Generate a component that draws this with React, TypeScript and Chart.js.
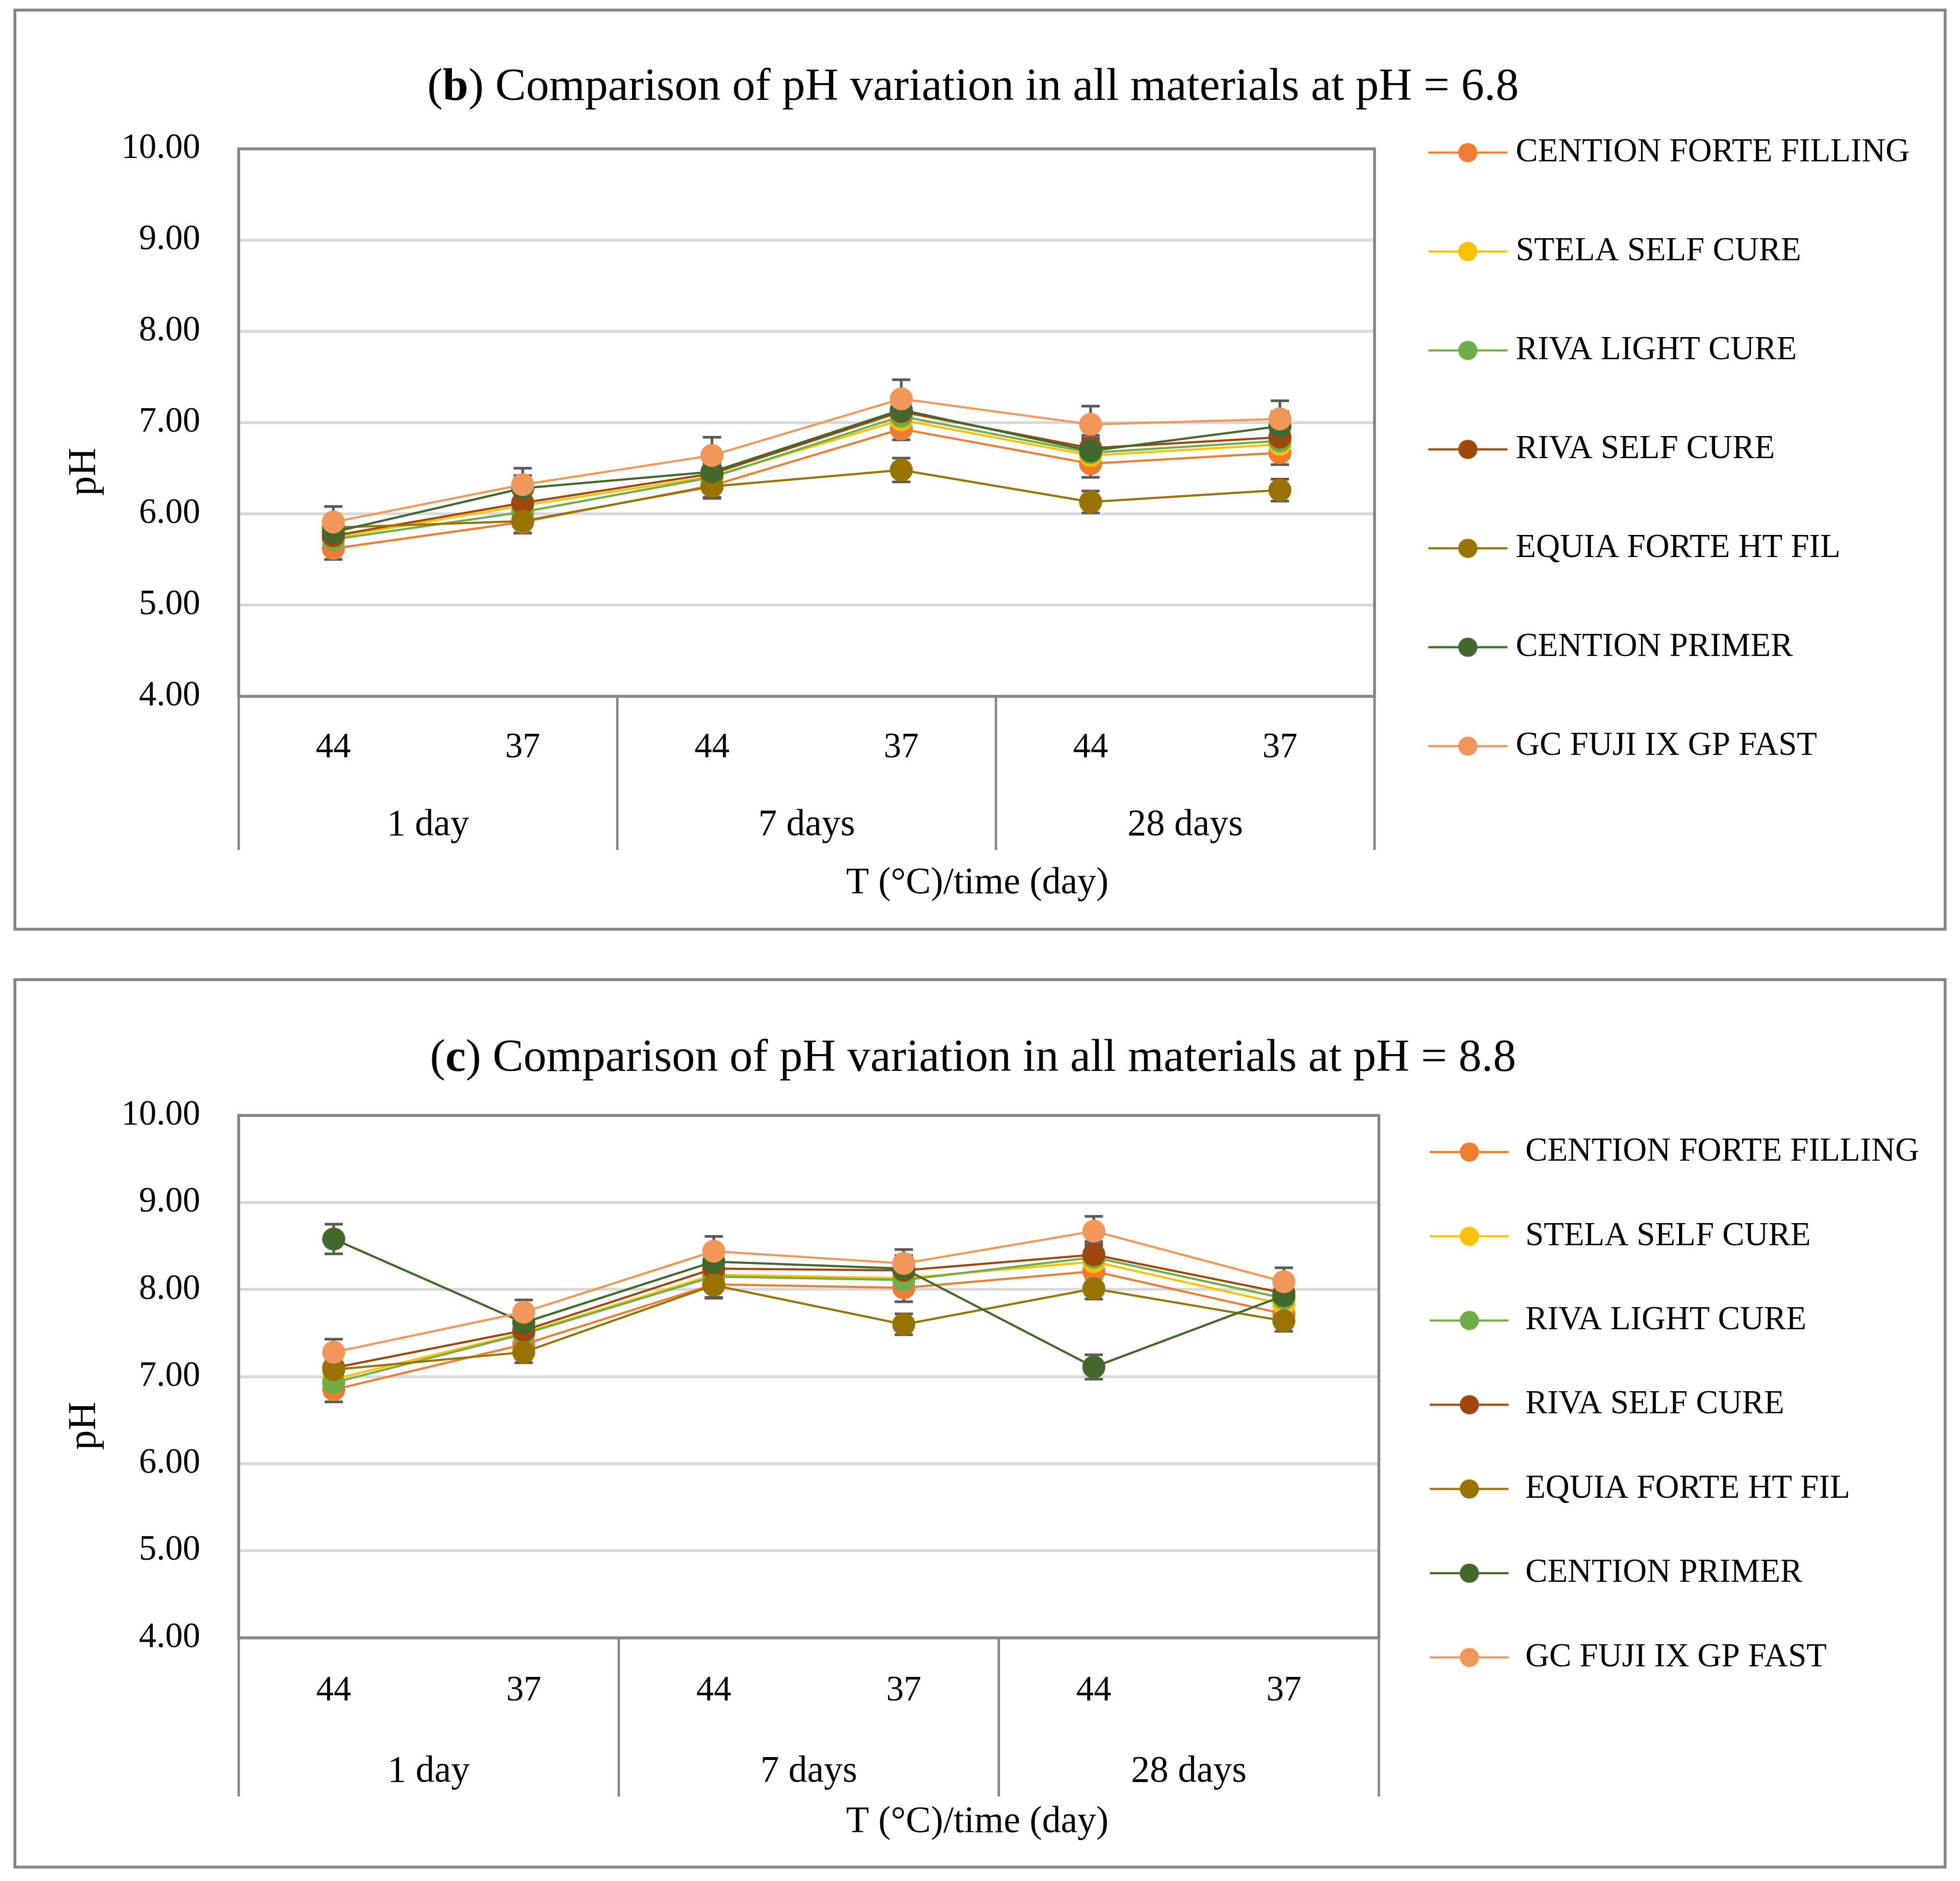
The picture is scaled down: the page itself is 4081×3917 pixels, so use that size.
import React, { useEffect, useRef } from 'react';
import { Chart, registerables } from 'chart.js';

Chart.register(...registerables);

const FONT_FAMILY = '"Liberation Serif", "Times New Roman", serif';

// ---------- categories / tick labels ----------
const temperatureLabels = ['44', '37', '44', '37', '44', '37'];
const timeGroups = ['1 day', '7 days', '28 days'];
const yAxisMin = 4;
const yAxisMax = 10;
const yAxisStep = 1;
const yAxisTitle = 'pH';
const xAxisTitle = 'T (°C)/time (day)';

const seriesNames = [
  'CENTION FORTE FILLING',
  'STELA SELF CURE',
  'RIVA LIGHT CURE',
  'RIVA SELF CURE',
  'EQUIA FORTE HT FIL',
  'CENTION PRIMER',
  'GC FUJI IX GP FAST',
];
const seriesColors = ['#ED7D31', '#FFC000', '#70AD47', '#9E480E', '#997300', '#43682B', '#F1975A'];

// ---------- panel (b): pH = 6.8 ----------
const b_centionForteFilling = [5.62, 5.91, 6.31, 6.93, 6.55, 6.67];
const b_stelaSelfCure = [5.74, 6.09, 6.41, 7.03, 6.64, 6.76];
const b_rivaLightCure = [5.72, 6.02, 6.4, 7.07, 6.67, 6.8];
const b_rivaSelfCure = [5.76, 6.12, 6.44, 7.12, 6.72, 6.84];
const b_equiaForteHtFil = [5.85, 5.92, 6.3, 6.48, 6.13, 6.26];
const b_centionPrimer = [5.8, 6.28, 6.46, 7.14, 6.69, 6.96];
const b_gcFujiIxGpFast = [5.91, 6.32, 6.64, 7.26, 6.98, 7.04];

const b_err_centionForteFilling = [0.12, 0.12, 0.13, 0.12, 0.15, 0.13];
const b_err_stelaSelfCure = [0.14, 0.13, 0.14, 0.15, 0.14, 0.14];
const b_err_rivaLightCure = [0.13, 0.14, 0.14, 0.15, 0.14, 0.15];
const b_err_rivaSelfCure = [0.14, 0.15, 0.15, 0.15, 0.14, 0.15];
const b_err_equiaForteHtFil = [0.13, 0.13, 0.13, 0.13, 0.12, 0.12];
const b_err_centionPrimer = [0.15, 0.14, 0.15, 0.16, 0.14, 0.16];
const b_err_gcFujiIxGpFast = [0.17, 0.18, 0.2, 0.21, 0.2, 0.2];

// ---------- panel (c): pH = 8.8 ----------
const c_centionForteFilling = [6.85, 7.37, 8.06, 8.02, 8.21, 7.72];
const c_stelaSelfCure = [6.97, 7.5, 8.17, 8.13, 8.32, 7.83];
const c_rivaLightCure = [6.93, 7.49, 8.15, 8.11, 8.37, 7.9];
const c_rivaSelfCure = [7.1, 7.53, 8.24, 8.22, 8.4, 7.96];
const c_equiaForteHtFil = [7.08, 7.28, 8.05, 7.6, 8.01, 7.64];
const c_centionPrimer = [8.58, 7.62, 8.32, 8.24, 7.11, 7.93];
const c_gcFujiIxGpFast = [7.28, 7.74, 8.44, 8.3, 8.67, 8.09];

const c_err_centionForteFilling = [0.14, 0.15, 0.15, 0.16, 0.15, 0.15];
const c_err_stelaSelfCure = [0.14, 0.14, 0.15, 0.15, 0.15, 0.14];
const c_err_rivaLightCure = [0.14, 0.15, 0.15, 0.15, 0.15, 0.15];
const c_err_rivaSelfCure = [0.15, 0.15, 0.15, 0.16, 0.15, 0.15];
const c_err_equiaForteHtFil = [0.14, 0.12, 0.15, 0.12, 0.12, 0.12];
const c_err_centionPrimer = [0.17, 0.15, 0.15, 0.15, 0.14, 0.15];
const c_err_gcFujiIxGpFast = [0.15, 0.14, 0.17, 0.16, 0.17, 0.16];

// ---------- layout (not data) ----------
const CANVAS_W = 4013;
const PANEL_LEFT = 28;
const BORDER = 6;
const FRAME_COLOR = '#868686';
const LEGEND_FONT_SIZE = 69;

type Layout = {
  pageTop: number;
  height: number;
  plotTop: number;
  plotRight: number;
  xTickPad: number;
  xTickH: number;
  groupPad: number;
  groupH: number;
  bottomPad: number;
  legendPad: number;
  legendTitleH: number;
  legendPointW: number;
  legendImgW: number;
  legendLineLen: number;
  titleX: number;
  titleBaseline: number;
  xTitleX: number;
  xTitleY: number;
};

const layoutB: Layout = {
  pageTop: 18,
  height: 1908,
  plotTop: 286,
  plotRight: 2828,
  xTickPad: 64.2,
  xTickH: 190,
  groupPad: 32.2,
  groupH: 130,
  bottomPad: 162,
  legendPad: 137,
  legendTitleH: 122.2,
  legendPointW: 122.5,
  legendImgW: 173,
  legendLineLen: 165,
  titleX: 1992,
  titleBaseline: 184.3,
  xTitleX: 2001,
  xTitleY: 1816,
};

const layoutC: Layout = {
  pageTop: 2037,
  height: 1842,
  plotTop: 279.7,
  plotRight: 2837,
  xTickPad: 67.6,
  xTickH: 190,
  groupPad: 42.6,
  groupH: 140.4,
  bottomPad: 144,
  legendPad: 106.4,
  legendTitleH: 215.1,
  legendPointW: 164,
  legendImgW: 164,
  legendLineLen: 164,
  titleX: 1992,
  titleBaseline: 186.7,
  xTitleX: 2001,
  xTitleY: 1752,
};

type PanelSpec = {
  letter: string;
  titleRest: string;
  values: number[][];
  errors: number[][];
  layout: Layout;
};

const panelB: PanelSpec = {
  letter: 'b',
  titleRest: 'Comparison of pH variation in all materials at pH = 6.8',
  values: [
    b_centionForteFilling,
    b_stelaSelfCure,
    b_rivaLightCure,
    b_rivaSelfCure,
    b_equiaForteHtFil,
    b_centionPrimer,
    b_gcFujiIxGpFast,
  ],
  errors: [
    b_err_centionForteFilling,
    b_err_stelaSelfCure,
    b_err_rivaLightCure,
    b_err_rivaSelfCure,
    b_err_equiaForteHtFil,
    b_err_centionPrimer,
    b_err_gcFujiIxGpFast,
  ],
  layout: layoutB,
};

const panelC: PanelSpec = {
  letter: 'c',
  titleRest: 'Comparison of pH variation in all materials at pH = 8.8',
  values: [
    c_centionForteFilling,
    c_stelaSelfCure,
    c_rivaLightCure,
    c_rivaSelfCure,
    c_equiaForteHtFil,
    c_centionPrimer,
    c_gcFujiIxGpFast,
  ],
  errors: [
    c_err_centionForteFilling,
    c_err_stelaSelfCure,
    c_err_rivaLightCure,
    c_err_rivaSelfCure,
    c_err_equiaForteHtFil,
    c_err_centionPrimer,
    c_err_gcFujiIxGpFast,
  ],
  layout: layoutC,
};

// ---------- plugins ----------
const frameAndErrorPlugin = {
  id: 'frameAndErrors',
  beforeDatasetsDraw(chart: any) {
    const { ctx, chartArea } = chart;
    const xScale = chart.scales.x;
    const x2Scale = chart.scales.x2;
    const yScale = chart.scales.y;
    ctx.save();
    // plot frame
    ctx.strokeStyle = FRAME_COLOR;
    ctx.lineWidth = 6;
    ctx.strokeRect(chartArea.left, chartArea.top, chartArea.right - chartArea.left, chartArea.bottom - chartArea.top);
    // group separators below the axis
    ctx.lineWidth = 5;
    for (let k = 0; k <= timeGroups.length; k++) {
      const px = xScale.getPixelForValue(2 * k - 0.5);
      ctx.beginPath();
      ctx.moveTo(px, chartArea.bottom);
      ctx.lineTo(px, x2Scale.bottom);
      ctx.stroke();
    }
    // error bars
    ctx.strokeStyle = '#595959';
    ctx.lineWidth = 5.5;
    chart.data.datasets.forEach((ds: any, i: number) => {
      const meta = chart.getDatasetMeta(i);
      const errs: number[] = ds.errorBars || [];
      meta.data.forEach((pt: any, j: number) => {
        const v = ds.data[j];
        const e = errs[j];
        if (v == null || e == null) return;
        const yTop = yScale.getPixelForValue(v + e);
        const yBot = yScale.getPixelForValue(v - e);
        ctx.beginPath();
        ctx.moveTo(pt.x, yTop);
        ctx.lineTo(pt.x, yBot);
        ctx.moveTo(pt.x - 19, yTop);
        ctx.lineTo(pt.x + 19, yTop);
        ctx.moveTo(pt.x - 19, yBot);
        ctx.lineTo(pt.x + 19, yBot);
        ctx.stroke();
      });
    });
    ctx.restore();
  },
};

const panelTextPlugin = {
  id: 'panelText',
  afterDraw(chart: any, _args: any, opts: any) {
    const ctx = chart.ctx;
    ctx.save();
    ctx.fillStyle = '#000';
    ctx.textBaseline = 'alphabetic';
    ctx.textAlign = 'left';
    const regular = `96px ${FONT_FAMILY}`;
    const bold = `bold 96px ${FONT_FAMILY}`;
    const parts = [
      { t: '(', f: regular },
      { t: opts.letter, f: bold },
      { t: ') ' + opts.titleRest, f: regular },
    ];
    const widths = parts.map((p) => {
      ctx.font = p.f;
      return ctx.measureText(p.t).width;
    });
    const total = widths.reduce((a, b) => a + b, 0);
    let x = opts.titleX - total / 2;
    parts.forEach((p, i) => {
      ctx.font = p.f;
      ctx.fillText(p.t, x, opts.titleBaseline);
      x += widths[i];
    });
    ctx.font = `78px ${FONT_FAMILY}`;
    ctx.textAlign = 'center';
    ctx.textBaseline = 'middle';
    ctx.fillText(opts.xTitle, opts.xTitleX, opts.xTitleY);
    ctx.restore();
  },
};

function legendSwatch(color: string, width: number, lineLen: number) {
  const c = document.createElement('canvas');
  c.width = Math.round(width);
  c.height = 48;
  const g = c.getContext('2d') as CanvasRenderingContext2D;
  g.strokeStyle = color;
  g.lineWidth = 4.5;
  g.beginPath();
  g.moveTo(0, 24);
  g.lineTo(lineLen, 24);
  g.stroke();
  g.fillStyle = color;
  g.beginPath();
  g.arc(lineLen / 2, 24, 20, 0, Math.PI * 2);
  g.fill();
  return c;
}

function measureLegendText(): number {
  const c = document.createElement('canvas');
  const g = c.getContext('2d') as CanvasRenderingContext2D;
  g.font = `normal ${LEGEND_FONT_SIZE}px ${FONT_FAMILY}`;
  return Math.max(...seriesNames.map((s) => g.measureText(s).width));
}

function buildConfig(spec: PanelSpec): any {
  const L = spec.layout;
  const swatches = seriesColors.map((c) => legendSwatch(c, L.legendImgW, L.legendLineLen));
  const textW = measureLegendText();
  const legendWidth = L.legendPad + L.legendPointW + LEGEND_FONT_SIZE / 2 + textW + 10;
  const padRight = CANVAS_W - L.plotRight - legendWidth;
  const n = seriesNames.length;
  return {
    type: 'line',
    data: {
      labels: temperatureLabels,
      datasets: spec.values.map((vals, i) => ({
        label: seriesNames[i],
        data: vals,
        errorBars: spec.errors[i],
        borderColor: seriesColors[i],
        backgroundColor: seriesColors[i],
        pointBackgroundColor: seriesColors[i],
        pointBorderColor: seriesColors[i],
        pointBorderWidth: 0,
        pointRadius: 24,
        pointHoverRadius: 24,
        borderWidth: 4.5,
        tension: 0,
        fill: false,
        order: n - 1 - i,
      })),
    },
    options: {
      animation: false,
      responsive: false,
      devicePixelRatio: 1,
      events: [],
      layout: { padding: { left: 0, top: 0, right: padRight, bottom: L.bottomPad } },
      scales: {
        x: {
          type: 'category',
          position: 'bottom',
          offset: true,
          grid: { display: false, drawTicks: false },
          border: { display: false },
          ticks: {
            color: '#000',
            font: { family: FONT_FAMILY, size: 73 },
            padding: L.xTickPad,
            autoSkip: false,
            maxRotation: 0,
          },
          afterFit: (s: any) => {
            s.height = L.xTickH;
          },
        },
        x2: {
          type: 'category',
          position: 'bottom',
          labels: timeGroups,
          offset: true,
          grid: { display: false, drawTicks: false },
          border: { display: false },
          ticks: {
            color: '#000',
            font: { family: FONT_FAMILY, size: 78 },
            padding: L.groupPad,
            autoSkip: false,
            maxRotation: 0,
          },
          afterFit: (s: any) => {
            s.height = L.groupH;
          },
        },
        y: {
          type: 'linear',
          min: yAxisMin,
          max: yAxisMax,
          ticks: {
            stepSize: yAxisStep,
            color: '#000',
            font: { family: FONT_FAMILY, size: 73 },
            padding: 80,
            callback: (v: any) => Number(v).toFixed(2),
          },
          grid: { color: '#D9D9D9', lineWidth: 6, drawTicks: false },
          border: { display: false },
          title: {
            display: true,
            text: yAxisTitle + ' '.repeat(10),
            color: '#000',
            font: { family: FONT_FAMILY, size: 82 },
            padding: { top: 93.3, bottom: 0 },
          },
          afterFit: (s: any) => {
            s.width = 463;
          },
        },
      },
      plugins: {
        title: {
          display: true,
          text: '',
          font: { size: 10, lineHeight: 1 },
          padding: { top: 0, bottom: L.plotTop - 10 },
        },
        legend: {
          display: true,
          position: 'right',
          align: 'start',
          fullSize: true,
          maxWidth: 3000,
          title: {
            display: true,
            text: ' ',
            font: { size: 10, lineHeight: 1 },
            padding: { top: L.legendTitleH - 10, bottom: 0 },
          },
          labels: {
            usePointStyle: true,
            pointStyleWidth: L.legendPointW,
            padding: L.legendPad,
            color: '#000',
            font: { family: FONT_FAMILY, size: LEGEND_FONT_SIZE },
            sort: (a: any, b: any) => a.datasetIndex - b.datasetIndex,
            generateLabels: (chart: any) => {
              const base = (Chart as any).defaults.plugins.legend.labels.generateLabels(chart);
              return base.map((item: any) => ({ ...item, pointStyle: swatches[item.datasetIndex] }));
            },
          },
        },
        tooltip: { enabled: false },
        panelText: {
          letter: spec.letter,
          titleRest: spec.titleRest,
          titleX: L.titleX,
          titleBaseline: L.titleBaseline,
          xTitle: xAxisTitle,
          xTitleX: L.xTitleX,
          xTitleY: L.xTitleY,
        },
      },
    },
    plugins: [frameAndErrorPlugin, panelTextPlugin],
  };
}

function Panel({ spec }: { spec: PanelSpec }) {
  const ref = useRef<HTMLCanvasElement | null>(null);
  useEffect(() => {
    if (!ref.current) return;
    const chart = new Chart(ref.current, buildConfig(spec));
    return () => chart.destroy();
  }, [spec]);
  const L = spec.layout;
  return (
    <div
      style={{
        position: 'absolute',
        left: PANEL_LEFT,
        top: L.pageTop,
        width: CANVAS_W,
        height: L.height,
        border: `${BORDER}px solid ${FRAME_COLOR}`,
        background: '#fff',
      }}
    >
      <canvas
        ref={ref}
        width={CANVAS_W}
        height={L.height}
        style={{ display: 'block', width: CANVAS_W, height: L.height }}
      />
    </div>
  );
}

export default function App() {
  return (
    <>
      <Panel spec={panelB} />
      <Panel spec={panelC} />
    </>
  );
}
